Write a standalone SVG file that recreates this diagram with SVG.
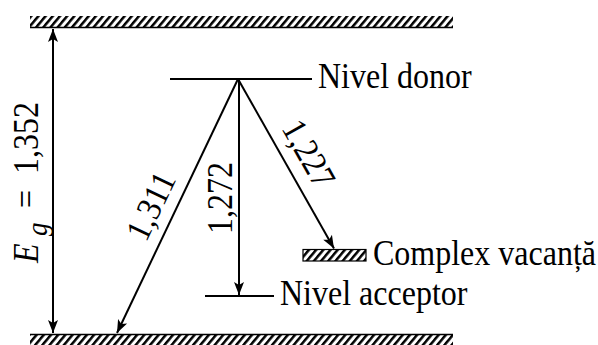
<svg xmlns="http://www.w3.org/2000/svg" width="598" height="345" viewBox="0 0 598 345">
<style>
.ln{stroke:#000;stroke-width:2;fill:none}
.t{font-family:"Liberation Serif","Times New Roman",serif;font-size:32px;fill:#000}
</style>
<defs>
<pattern id="hatch" patternUnits="userSpaceOnUse" width="5.5" height="10" patternTransform="rotate(40)">
<rect x="0" y="0" width="2.5" height="10" fill="#000"/>
</pattern>
<marker id="ah" markerUnits="userSpaceOnUse" markerWidth="16" markerHeight="12" viewBox="-14 -6 16 12" refX="0" refY="0" orient="auto-start-reverse">
<path d="M0,0 L-13,-5 L-10,0 L-13,5 Z" fill="#000"/>
</marker>
</defs>
<g id="valence-band-top">
<rect x="30" y="16" width="423" height="11" fill="url(#hatch)"/>
<line x1="30" y1="27.5" x2="453" y2="27.5" stroke="#000" stroke-width="1.5"/>
</g>
<g id="conduction-band-bottom">
<rect x="30" y="334" width="423" height="11" fill="url(#hatch)"/>
<line x1="30" y1="334.5" x2="453" y2="334.5" stroke="#000" stroke-width="1.5"/>
</g>
<g id="donor">
<line class="ln" x1="170" y1="79" x2="312" y2="79"/>
<text class="t" transform="translate(318,88) scale(1,1.09)">Nivel donor</text>
</g>
<g id="acceptor">
<line class="ln" x1="205" y1="296" x2="274" y2="296"/>
<text class="t" transform="translate(280,305) scale(1,1.09)">Nivel acceptor</text>
</g>
<g id="complex">
<rect x="303" y="249.5" width="63" height="11.5" fill="url(#hatch)" stroke="#000" stroke-width="1.2"/>
<text class="t" transform="translate(373,265) scale(1,1.09)">Complex vacanță</text>
</g>
<g id="eg-label">
<text class="t" transform="translate(38,263) rotate(-90) scale(1,1.09)"><tspan x="0" font-style="italic">E</tspan><tspan x="27" dy="8" font-style="italic" font-size="27">g</tspan><tspan x="55" dy="-8">=</tspan><tspan x="89">1,352</tspan></text>
</g>
<g id="connectors">
<line class="ln" x1="53" y1="29" x2="53" y2="333" marker-start="url(#ah)" marker-end="url(#ah)"/>
<line class="ln" x1="239" y1="79" x2="239" y2="295" marker-end="url(#ah)"/>
<line class="ln" x1="238" y1="79" x2="117" y2="333" marker-end="url(#ah)"/>
<line class="ln" x1="238" y1="79" x2="334" y2="248.5" marker-end="url(#ah)"/>
<text class="t" transform="translate(232,234) rotate(-90) scale(1,1.09)">1,272</text>
<text class="t" transform="translate(146,243) rotate(-64.4) scale(1,1.09)">1,311</text>
<text class="t" transform="translate(281,128) rotate(60.5) scale(1,1.09)">1,227</text>
</g>
</svg>
